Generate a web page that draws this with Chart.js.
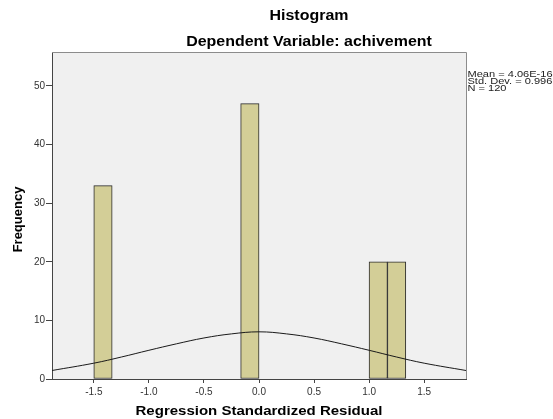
<!DOCTYPE html>
<html>
<head>
<meta charset="utf-8">
<script src="https://cdn.jsdelivr.net/npm/chart.js"></script>
<style>
  html, body { margin: 0; padding: 0; background: #ffffff; }
  #wrap { width: 553px; height: 419px; }
</style>
</head>
<body>
<div id="wrap"><canvas id="c" width="553" height="419"></canvas></div>
<script>
// ---- data ----
const binCenters = [-1.417, -0.083, 1.083, 1.250];
const frequencies = [33, 47, 20, 20];
const curveX = [-1.88, -1.5, -1.25, -1.0, -0.75, -0.5, -0.25, 0, 0.25, 0.5, 0.75, 1.0, 1.25, 1.5, 1.88];
const curveY = [1.45, 2.7, 3.75, 4.9, 6.0, 7.0, 7.7, 8.05, 7.7, 7.0, 6.0, 4.9, 3.75, 2.7, 1.45];
const xTickValues = [-1.5, -1.0, -0.5, 0.0, 0.5, 1.0, 1.5];
const yTickValues = [0, 10, 20, 30, 40, 50];
const titleLines = ['Histogram', 'Dependent Variable: achivement'];
const statLines = ['Mean = 4.06E-16', 'Std. Dev. = 0.996', 'N = 120'];
const xTitle = 'Regression Standardized Residual';
const yTitle = 'Frequency';
const xRange = [-1.88, 1.88];
const yRange = [0, 55.8];

const barData = binCenters.map((x, i) => ({ x: x, y: frequencies[i] }));
const curveData = curveX.map((x, i) => ({ x: x, y: curveY[i] }));

function setTicks(values) {
  return function (scale) {
    scale.ticks = values.map(v => ({ value: v }));
  };
}

function stretchText(ctx, text, x, y, sx, align) {
  ctx.save();
  ctx.translate(x, y);
  ctx.scale(sx, 1);
  ctx.textAlign = align;
  ctx.fillText(text, 0, 0);
  ctx.restore();
}

const decor = {
  id: 'decor',
  beforeDraw(chart) {
    const a = chart.chartArea, ctx = chart.ctx;
    ctx.save();
    ctx.fillStyle = '#f0f0f0';
    ctx.fillRect(a.left, a.top, a.right - a.left, a.bottom - a.top);
    ctx.restore();
  },
  afterDraw(chart) {
    const a = chart.chartArea, ctx = chart.ctx;
    ctx.save();
    // top / right frame
    ctx.strokeStyle = '#8c8c8c';
    ctx.lineWidth = 1;
    ctx.beginPath();
    ctx.moveTo(a.left, a.top + 0.5);
    ctx.lineTo(a.right + 0.5, a.top + 0.5);
    ctx.lineTo(a.right + 0.5, a.bottom);
    ctx.stroke();

    ctx.fillStyle = '#000000';
    ctx.textBaseline = 'alphabetic';
    ctx.font = 'bold 14px "Liberation Sans", Arial, sans-serif';
    stretchText(ctx, titleLines[0], 309, 20, 1.14, 'center');
    stretchText(ctx, titleLines[1], 309, 46, 1.14, 'center');

    ctx.font = 'bold 13px "Liberation Sans", Arial, sans-serif';
    stretchText(ctx, xTitle, (a.left + a.right) / 2, 415, 1.155, 'center');

    ctx.save();
    ctx.translate(22, (a.top + a.bottom) / 2 + 4);
    ctx.rotate(-Math.PI / 2);
    ctx.textAlign = 'center';
    ctx.fillText(yTitle, 0, 0);
    ctx.restore();

    ctx.fillStyle = '#222222';
    ctx.textBaseline = 'middle';
    ctx.font = '8.5px "Liberation Sans", Arial, sans-serif';
    statLines.forEach((s, i) => stretchText(ctx, s, a.right + 1.5, 74.7 + i * 6.8, 1.3, 'left'));
    ctx.restore();
  }
};

new Chart(document.getElementById('c'), {
  type: 'bar',
  data: {
    datasets: [
      {
        type: 'line',
        data: curveData,
        borderColor: '#1a1a1a',
        borderWidth: 1,
        pointRadius: 0,
        fill: false,
        tension: 0.4,
        order: 0
      },
      {
        type: 'bar',
        data: barData,
        backgroundColor: '#d3ce97',
        borderColor: '#2a2a2a',
        borderWidth: 1,
        borderSkipped: false,
        barPercentage: 1,
        categoryPercentage: 1,
        order: 1
      }
    ]
  },
  options: {
    responsive: false,
    devicePixelRatio: 1,
    animation: false,
    layout: { padding: { left: 0, top: 52, right: 87, bottom: 0 } },
    plugins: { legend: { display: false }, tooltip: { enabled: false }, title: { display: false } },
    scales: {
      x: {
        type: 'linear',
        min: xRange[0],
        max: xRange[1],
        offset: false,
        afterFit(scale) { scale.height = 40; },
        afterBuildTicks: setTicks(xTickValues),
        ticks: {
          padding: 3,
          maxRotation: 0,
          autoSkip: false,
          color: '#333333',
          font: { family: '"Liberation Sans", Arial, sans-serif', size: 10 },
          callback: v => Number(v).toFixed(1)
        },
        grid: { offset: false, drawOnChartArea: false, drawTicks: true, tickLength: 4, color: '#444444' },
        border: { display: true, color: '#444444', width: 1 }
      },
      y: {
        type: 'linear',
        min: yRange[0],
        max: yRange[1],
        afterFit(scale) { scale.width = 52; },
        afterBuildTicks: setTicks(yTickValues),
        ticks: {
          padding: 1,
          color: '#333333',
          font: { family: '"Liberation Sans", Arial, sans-serif', size: 10 },
          callback: v => String(Math.round(v))
        },
        grid: { offset: false, drawOnChartArea: false, drawTicks: true, tickLength: 6, color: '#444444' },
        border: { display: true, color: '#444444', width: 1 }
      }
    }
  },
  plugins: [decor]
});
</script>
</body>
</html>
